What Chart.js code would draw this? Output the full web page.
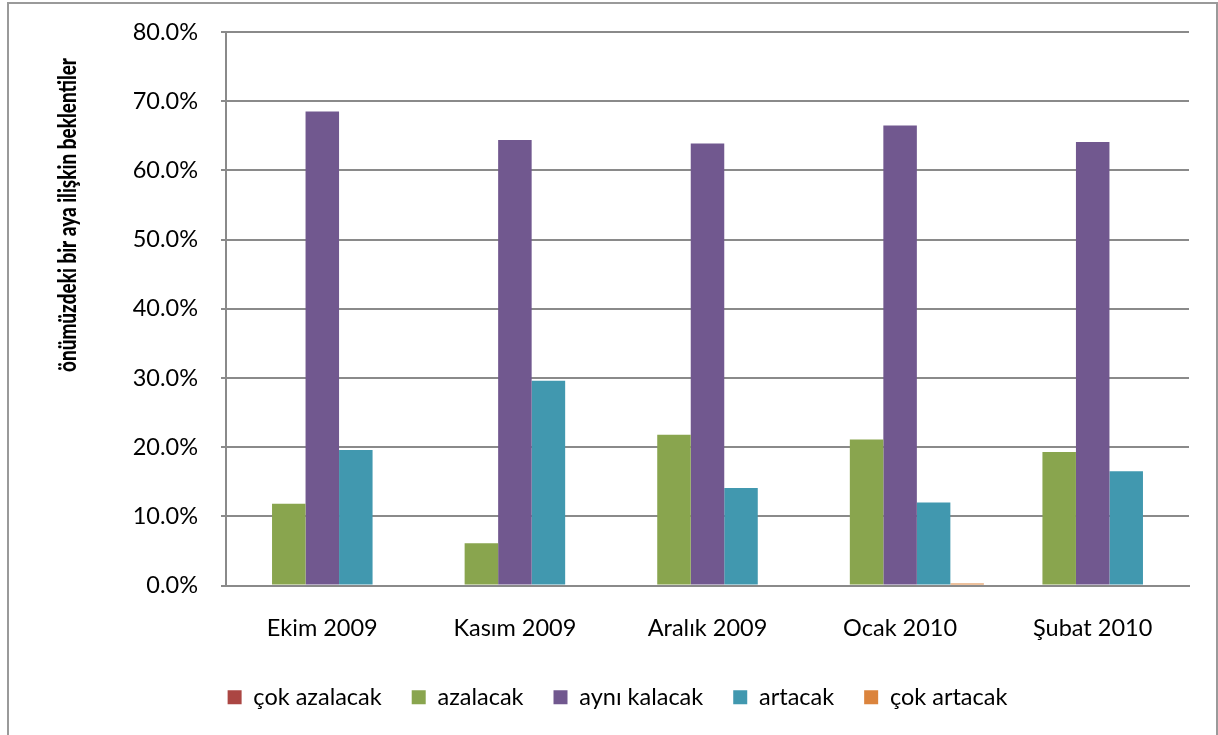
<!DOCTYPE html>
<html>
<head>
<meta charset="utf-8">
<title>Beklentiler</title>
<script src="https://cdn.jsdelivr.net/npm/chart.js@4/dist/chart.umd.min.js"></script>
<style>
    html, body { margin: 0; padding: 0; background: #fff; }
    #chartBox { position: relative; width: 1218px; height: 735px; }
</style>
</head>
<body>
<div id="chartBox"><canvas id="expectationChart"></canvas></div>
<script>
// months on the x axis
const months = ["Ekim 2009", "Kasım 2009", "Aralık 2009", "Ocak 2010", "Şubat 2010"];
// answer shares per month, in percent
const cokAzalacak = [0, 0, 0, 0, 0];
const azalacak = [11.8, 6.1, 21.8, 21.1, 19.3];
const ayniKalacak = [68.5, 64.4, 63.9, 66.5, 64.1];
const artacak = [19.6, 29.6, 14.1, 12.0, 16.5];
const cokArtacak = [0, 0, 0, 0.3, 0];
// y axis range and step, percent
const yMin = 0;
const yMax = 80;
const yStep = 10;
const yTitle = "önümüzdeki bir aya ilişkin beklentiler";

class ExpectationChart {

    static pointers = {
        canvas: 'expectationChart',
    }

    static style = {
        font: 'Lato, "Open Sans", sans-serif',
        grid: '#8a8a8a',
        colors: ["#AB4643", "#89A54E", "#71588F", "#4198AF", "#DB843D"],
    }

    // gray frame around the whole chart, like the office chart border
    static framePlugin = {
        id: 'frame',
        beforeDraw: (chart) => {
            const ctx = chart.ctx;
            ctx.save();
            ctx.strokeStyle = '#9a9a9a';
            ctx.lineWidth = 2;
            ctx.strokeRect(8, 3, 1209, 740);
            ctx.restore();
        }
    }

    // rotated axis title, a narrow bold face squeezed along its length
    static yTitlePlugin = {
        id: 'yTitle',
        afterDraw: (chart) => {
            const ctx = chart.ctx;
            ctx.save();
            ctx.font = '900 24px ' + this.style.font;
            const squeeze = 314 / ctx.measureText(yTitle).width;
            ctx.translate(68, 215);
            ctx.rotate(-Math.PI / 2);
            ctx.scale(squeeze, 1);
            ctx.fillStyle = '#000';
            ctx.textAlign = 'center';
            ctx.textBaseline = 'middle';
            ctx.fillText(yTitle, 0, 0);
            ctx.restore();
        }
    }

    static buildDatasets = () => {
        const series = [
            ["çok azalacak", cokAzalacak],
            ["azalacak", azalacak],
            ["aynı kalacak", ayniKalacak],
            ["artacak", artacak],
            ["çok artacak", cokArtacak],
        ];
        return series.map(([label, data], i) => ({
            label: label,
            data: data,
            backgroundColor: this.style.colors[i],
            borderWidth: 0,
            barPercentage: 1,
            categoryPercentage: 0.87,
        }));
    }

    static init = () => {
        Chart.defaults.font.family = this.style.font;
        Chart.defaults.color = '#000';

        new Chart(document.getElementById(this.pointers.canvas), {
            type: 'bar',
            data: {
                labels: months,
                datasets: this.buildDatasets(),
            },
            options: {
                responsive: true,
                maintainAspectRatio: false,
                animation: false,
                layout: {
                    padding: { left: 46, right: 29, top: 32, bottom: 16 }
                },
                plugins: {
                    legend: {
                        position: 'bottom',
                        labels: {
                            boxWidth: 14,
                            boxHeight: 14,
                            padding: 30,
                            font: { size: 23.5 },
                            color: '#000',
                        }
                    },
                    tooltip: { enabled: false },
                },
                scales: {
                    x: {
                        grid: { display: false, drawTicks: false },
                        border: { display: true, color: this.style.grid, width: 2 },
                        ticks: {
                            padding: 29,
                            font: { size: 23.5 },
                            color: '#000',
                        },
                        afterFit: (scale) => { scale.height = 70; },
                    },
                    y: {
                        min: yMin,
                        max: yMax,
                        ticks: {
                            stepSize: yStep,
                            padding: 23,
                            font: { size: 23.5 },
                            color: '#000',
                            callback: (v) => v.toFixed(1) + '%',
                        },
                        grid: {
                            color: this.style.grid,
                            lineWidth: 2,
                            tickLength: 5,
                        },
                        border: { display: true, color: this.style.grid, width: 2 },
                        // fixed label column; the label gap must not push the top down
                        afterFit: (scale) => {
                            scale.width = 180;
                            scale.paddingTop = 14;
                            scale.paddingBottom = 14;
                        },
                    }
                }
            },
            plugins: [this.framePlugin, this.yTitlePlugin],
        });
    }
}

ExpectationChart.init();
</script>
</body>
</html>
